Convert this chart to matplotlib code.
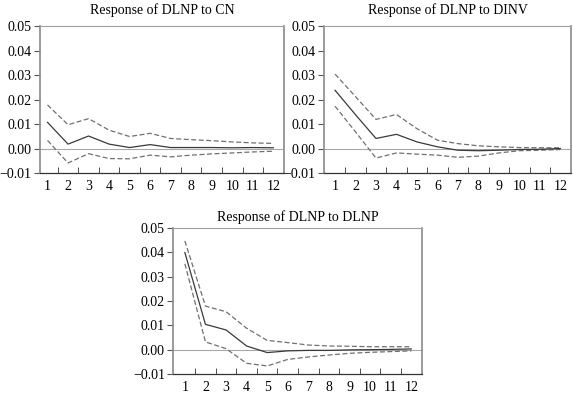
import numpy as np
import matplotlib
matplotlib.use('Agg')
import matplotlib.pyplot as plt
from matplotlib import font_manager

names = sorted({f.name for f in font_manager.fontManager.ttflist})
serif_pick = [n for n in ['Liberation Serif', 'Times New Roman', 'Nimbus Roman', 'Tinos', 'DejaVu Serif'] if n in names]
plt.rcParams['font.family'] = 'serif'
plt.rcParams['font.serif'] = serif_pick

periods = np.arange(1, 13)

# Response of DLNP to CN
cn_mid = [0.0107, 0.0018, 0.0051, 0.0018, 0.0004, 0.0016, 0.0004, 0.0004, 0.0004, 0.0003, 0.0004, 0.0003]
cn_up = [0.0178, 0.0097, 0.0122, 0.0075, 0.0049, 0.0062, 0.0041, 0.0036, 0.0032, 0.0027, 0.0023, 0.0021]
cn_lo = [0.0033, -0.0059, -0.0021, -0.0041, -0.0042, -0.0027, -0.0034, -0.0027, -0.0022, -0.0018, -0.0014, -0.0011]

# Response of DLNP to DINV
inv_mid = [0.0238, 0.0138, 0.0041, 0.0058, 0.0027, 0.0007, -0.0007, -0.0009, -0.0007, -0.0004, -0.0003, 0.0000]
inv_up = [0.0304, 0.0212, 0.0119, 0.0139, 0.0081, 0.0034, 0.0020, 0.0011, 0.0007, 0.0004, 0.0003, 0.0003]
inv_lo = [0.0173, 0.0068, -0.0039, -0.0018, -0.0023, -0.0027, -0.0036, -0.0031, -0.0018, -0.0009, -0.0007, -0.0004]

# Response of DLNP to DLNP
lnp_mid = [0.0399, 0.0104, 0.0081, 0.0015, -0.0012, -0.0005, -0.0003, -0.0003, -0.0001, 0.0000, 0.0001, 0.0003]
lnp_up = [0.0447, 0.0179, 0.0156, 0.0088, 0.0038, 0.0029, 0.0019, 0.0015, 0.0014, 0.0012, 0.0012, 0.0012]
lnp_lo = [0.0353, 0.0032, 0.0004, -0.0056, -0.0067, -0.0040, -0.0030, -0.0022, -0.0015, -0.0011, -0.0008, -0.0005]

titles = ['Response of DLNP to CN', 'Response of DLNP to DINV', 'Response of DLNP to DLNP']
y_ticks = [-0.01, 0.00, 0.01, 0.02, 0.03, 0.04, 0.05]
y_labels = ['\u22120.01', '0.00', '0.01', '0.02', '0.03', '0.04', '0.05']

fig = plt.figure(figsize=(5.73, 3.95), dpi=100)
ax1 = fig.add_axes([0.0693, 0.562, 0.4263, 0.372])
ax2 = fig.add_axes([0.5654, 0.562, 0.431, 0.372])
ax3 = fig.add_axes([0.3025, 0.0532, 0.434, 0.3696])

panels = [
    (ax1, cn_mid, cn_up, cn_lo, titles[0], 0.62, 8.5),
    (ax2, inv_mid, inv_up, inv_lo, titles[1], 0.46, 8.5),
    (ax3, lnp_mid, lnp_up, lnp_lo, titles[2], 0.44, 5),
]

for ax, mid, up, lo, title, x0, tpad in panels:
    ax.axhline(0, color='#a8a8a8', linewidth=0.8, zorder=1)
    ax.plot(periods, mid, color='#3a3a3a', linewidth=0.9, zorder=3)
    ax.plot(periods, up, color='#707070', linewidth=0.9, linestyle=(0, (4, 2)), zorder=2)
    ax.plot(periods, lo, color='#707070', linewidth=0.9, linestyle=(0, (4, 2)), zorder=2)

    ax.set_xlim(x0, 12.52)
    ax.set_ylim(-0.01, 0.05)

    ax.set_yticks(y_ticks)
    ax.set_yticklabels(y_labels, fontsize=10)
    ax.set_xticks(periods)
    ax.set_xticklabels([str(p) for p in periods], fontsize=10)
    ax.set_xticks(np.arange(1.5, 12.5, 1.0), minor=True)

    ax.tick_params(axis='x', which='major', length=0, pad=5)
    ax.tick_params(axis='x', which='minor', direction='in', length=4, color='#333333')
    ax.tick_params(axis='y', direction='out', length=4, color='#555555', pad=2)

    ax.spines['left'].set_color('#8a8a8a')
    ax.spines['left'].set_linewidth(1.2)
    ax.spines['bottom'].set_color('#333333')
    ax.spines['bottom'].set_linewidth(0.9)
    ax.spines['top'].set_color('#a0a0a0')
    ax.spines['top'].set_linewidth(0.8)
    ax.spines['right'].set_color('#8a8a8a')
    ax.spines['right'].set_linewidth(1.2)

    ax.set_title(title, fontsize=10, pad=tpad)

plt.savefig('out.png', dpi=100)
